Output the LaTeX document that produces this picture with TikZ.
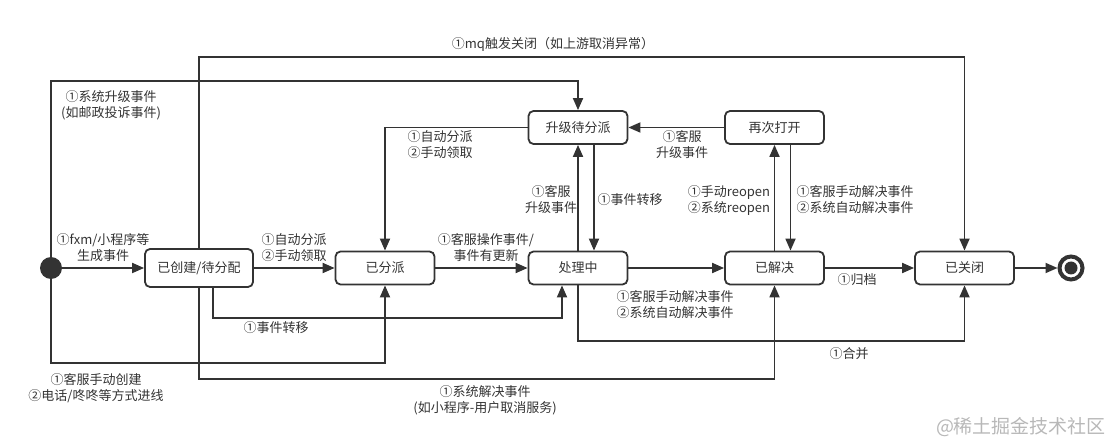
\documentclass[tikz,border=0pt]{standalone}
\usepackage{fontspec}
\setmainfont{Noto Sans CJK SC}
\usetikzlibrary{arrows.meta}
\definecolor{ink}{HTML}{333333}
\begin{document}
\begin{tikzpicture}[x=1pt,y=-1pt,
  state/.style={draw=ink, line width=1.8pt, rounded corners=5pt, minimum width=99pt, minimum height=33pt, inner sep=0pt, font=\fontsize{13}{16}\selectfont, text=ink},
  lbl/.style={font=\fontsize{13}{16}\selectfont, text=ink, align=center, inner sep=0pt},
  arr/.style={draw=ink, line width=1.8pt, -{Triangle[length=12pt,width=10pt]}},
  wm/.style={font=\fontsize{19}{20}\selectfont, text=black!28, inner sep=0pt}]
\useasboundingbox (0,0) rectangle (1108,443);
% states
\node[circle, fill=ink, minimum size=22pt, inner sep=0pt] (init) at (51,268) {};
\node[state, minimum width=108pt, minimum height=38pt] (created) at (199,268) {已创建/待分配};
\node[state] (assigned) at (385,268) {已分派};
\node[state] (proc) at (578,268) {处理中};
\node[state] (resolved) at (774.5,268) {已解决};
\node[state] (closed) at (964.5,268) {已关闭};
\node[state] (up) at (578,127.5) {升级待分派};
\node[state] (reopen) at (774.5,127.5) {再次打开};
\node[circle, draw=ink, line width=4pt, minimum size=23pt, inner sep=0pt,
  path picture={\fill[ink] (path picture bounding box.center) circle (6.5pt);}] (final) at (1071,268) {};
% helper coordinates
\coordinate (ytop) at (0,57);
\coordinate (yup) at (0,81);
\coordinate (ymid) at (0,318);
\coordinate (ymerge) at (0,341);
\coordinate (ybot1) at (0,363);
\coordinate (ybot2) at (0,379);
\coordinate (cs) at ([xshift=14pt]created.south);
\coordinate (ps) at ([xshift=-16pt]proc.south);
\coordinate (ups) at ([xshift=16pt]up.south);
\coordinate (pn) at ([xshift=16pt]proc.north);
\coordinate (ros) at ([xshift=16pt]reopen.south);
\coordinate (rn) at ([xshift=16pt]resolved.north);
% main line
\draw[arr] (init) -- (created);
\draw[arr] (created) -- (assigned);
\draw[arr] (assigned) -- (proc);
\draw[arr] (proc) -- (resolved);
\draw[arr] (resolved) -- (closed);
\draw[arr] (closed) -- (final);
% upper part
\draw[arr] (reopen) -- (up);
\draw[arr] (up.west) -| (assigned.north);
\draw[arr] (proc.north) -- (up.south);
\draw[arr] (ups) -- (pn);
\draw[arr] (resolved.north) -- (reopen.south);
\draw[arr] (ros) -- (rn);
\draw[arr] (created.north) -- (created.north |- ytop) -| (closed.north);
\draw[arr] (init.center) -- (init.center |- yup) -| (up.north);
% lower part
\draw[arr] (init.center) -- (init.center |- ybot1) -| (assigned.south);
\draw[arr] (created.south) -- (created.south |- ybot2) -| (resolved.south);
\draw[arr] (cs) -- (cs |- ymid) -| (ps);
\draw[arr] (proc.south) -- (proc.south |- ymerge) -| (closed.south);
% labels
\node[lbl] (l1) at (103,248) {①fxm/小程序等\\生成事件};
\node[lbl] (l2) at (294,248) {①自动分派\\②手动领取};
\node[lbl] (l3) at (486,248) {①客服操作事件/\\事件有更新};
\node[lbl] (l4) at (675,305) {①客服手动解决事件\\②系统自动解决事件};
\node[lbl] (l5) at (857,280) {①归档};
\node[lbl] (l6) at (849,354) {①合并};
\node[lbl] (l7) at (485,400) {①系统解决事件\\(如小程序-用户取消服务)};
\node[lbl] (l8) at (96,388) {①客服手动创建\\②电话/咚咚等方式进线};
\node[lbl] (l9) at (276,328) {①事件转移};
\node[lbl] (l10) at (111,105) {①系统升级事件\\(如邮政投诉事件)};
\node[lbl] (l11) at (553,44) {①mq触发关闭（如上游取消异常）};
\node[lbl] (l12) at (440,145) {①自动分派\\②手动领取};
\node[lbl] (l13) at (551,200) {①客服\\升级事件};
\node[lbl] (l14) at (630,200) {①事件转移};
\node[lbl] (l15) at (682,145) {①客服\\升级事件};
\node[lbl] (l16) at (729,200) {①手动reopen\\②系统reopen};
\node[lbl] (l17) at (855,200) {①客服手动解决事件\\②系统自动解决事件};
\node[wm] (wm) at (1021,427) {@稀土掘金技术社区};
\end{tikzpicture}
\end{document}
